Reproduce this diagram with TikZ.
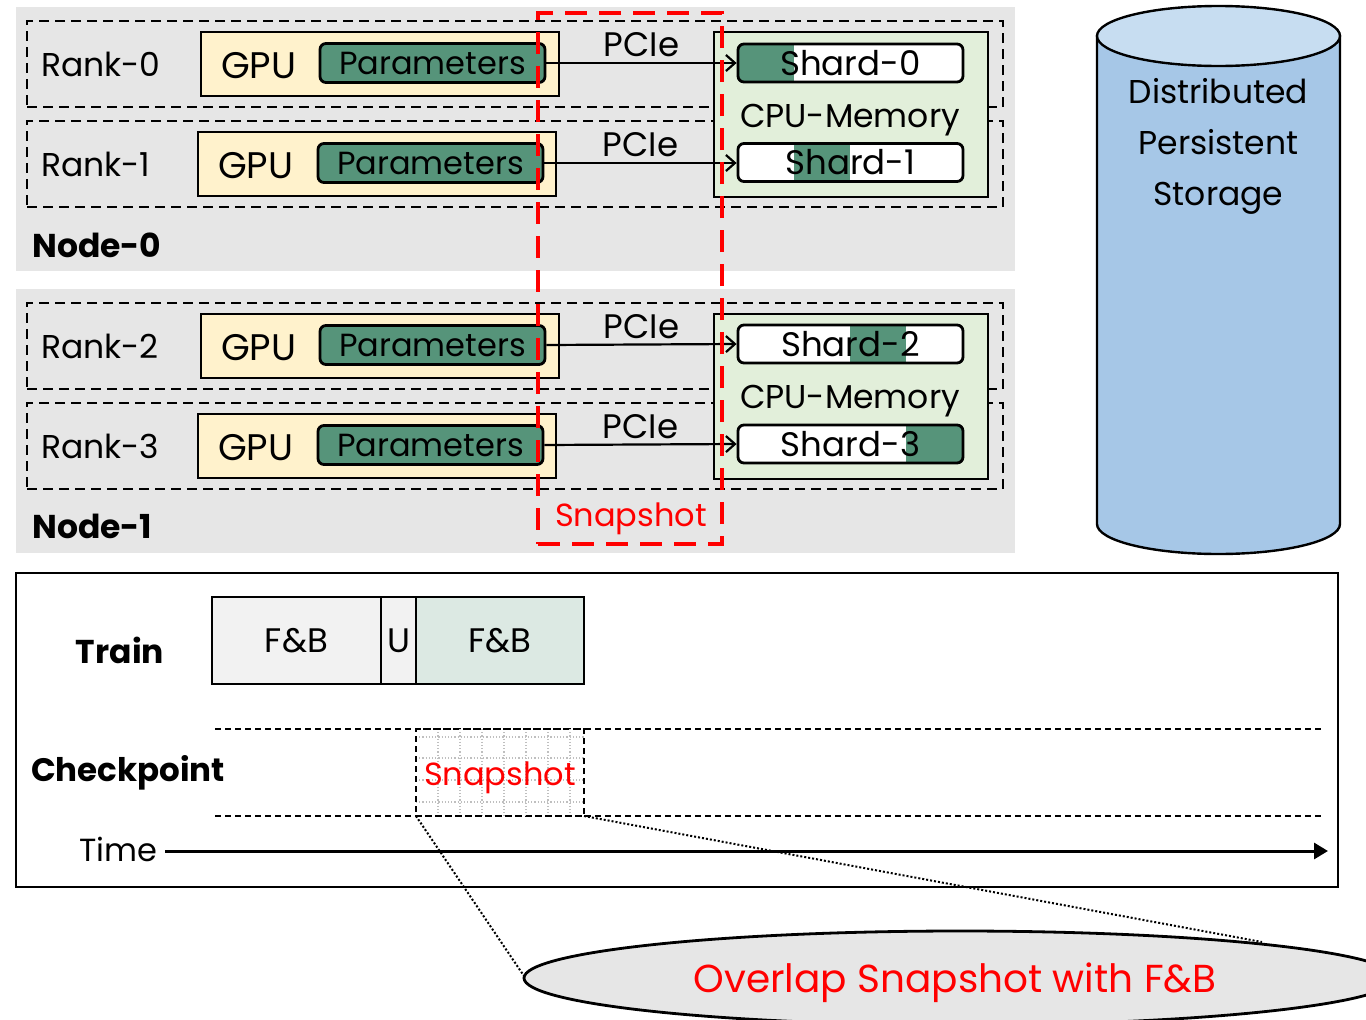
\documentclass[tikz,border=0pt]{standalone}
\usepackage{fontspec}
\setmainfont{Poppins}
\usetikzlibrary{shapes.geometric,arrows.meta}

\definecolor{nodebg}{HTML}{E6E6E6}
\definecolor{gpufill}{HTML}{FFF2CC}
\definecolor{paramfill}{HTML}{56947A}
\definecolor{cpufill}{HTML}{E2EFDA}
\definecolor{storebody}{HTML}{A6C7E7}
\definecolor{storetop}{HTML}{C7DDF1}
\definecolor{fbgray}{HTML}{F2F2F2}
\definecolor{fbgreen}{HTML}{DCE9E3}
\definecolor{snapred}{HTML}{FF0000}
\definecolor{gridgray}{HTML}{BFBFBF}

\tikzset{
  big/.style={font=\fontsize{34}{40}\selectfont},
  mid/.style={font=\fontsize{33}{40}\selectfont},
  small/.style={font=\fontsize{32}{40}\selectfont},
  bigbold/.style={font=\fontsize{33}{40}\selectfont\bfseries},
  lbl/.style={big, inner sep=0pt},
  box/.style={anchor=north west, inner sep=0pt, outer sep=0pt},
  nodebgbox/.style={box, fill=nodebg, minimum width=999pt, minimum height=264pt},
  rankbox/.style={box, draw, line width=2.4pt, dash pattern=on 10pt off 6pt,
    minimum width=976pt, minimum height=86pt},
  gpubox/.style={box, draw, line width=2.8pt, fill=gpufill,
    minimum width=358pt, minimum height=64pt},
  parambox/.style={draw, line width=2.8pt, fill=paramfill, rounded corners=6pt,
    minimum width=225pt, minimum height=39pt, inner sep=0pt, small},
  cpubox/.style={box, draw, line width=2.8pt, fill=cpufill,
    minimum width=274pt, minimum height=165pt},
  shardbox/.style={draw, line width=2.8pt, rounded corners=6pt,
    minimum width=225pt, minimum height=38pt, inner sep=0pt, big},
  pcie/.style={line width=2.2pt, -{Straight Barb[length=9pt,width=16pt,line width=2.2pt]}},
  snapframe/.style={draw=snapred, line width=4pt, dash pattern=on 22pt off 12pt},
  tlbox/.style={box, draw, line width=2.8pt, minimum height=87pt},
  tldash/.style={line width=2pt, dash pattern=on 6pt off 4pt},
  zoomline/.style={line width=2pt, dotted}
}

\begin{document}
\begin{tikzpicture}[x=1pt, y=-1pt]
\useasboundingbox (0,0) rectangle (1366,1020);
\clip (0,0) rectangle (1366,1020);

% ---------- compute nodes ----------
\node[nodebgbox] (bg0) at (16,7) {};
\node[nodebgbox] (bg1) at (16,289) {};

\node[rankbox] (rk0) at (27,21) {};
\node[rankbox] (rk1) at (27,121) {};
\node[rankbox] (rk2) at (27,303) {};
\node[rankbox] (rk3) at (27,403) {};

\node[lbl, mid, anchor=west] (rl0) at (41,64) {Rank-0};
\node[lbl, mid, anchor=west] (rl1) at (41,164) {Rank-1};
\node[lbl, mid, anchor=west] (rl2) at (41,346) {Rank-2};
\node[lbl, mid, anchor=west] (rl3) at (41,446) {Rank-3};

\node[gpubox] (gpu0) at (201,32) {};
\node[gpubox] (gpu1) at (198,132) {};
\node[gpubox] (gpu2) at (201,314) {};
\node[gpubox] (gpu3) at (198,414) {};

\node[lbl, font=\fontsize{37}{40}\selectfont, anchor=west] (gt0) at (221,66) {GPU};
\node[lbl, font=\fontsize{37}{40}\selectfont, anchor=west] (gt1) at (218,166) {GPU};
\node[lbl, font=\fontsize{37}{40}\selectfont, anchor=west] (gt2) at (221,348) {GPU};
\node[lbl, font=\fontsize{37}{40}\selectfont, anchor=west] (gt3) at (218,448) {GPU};

\node[parambox] (par0) at (432.5,63) {Parameters};
\node[parambox] (par1) at (430.5,163) {Parameters};
\node[parambox] (par2) at (432.5,345) {Parameters};
\node[parambox] (par3) at (430.5,445) {Parameters};

\node[cpubox] (cpu0) at (714,32) {};
\node[cpubox] (cpu1) at (714,314) {};
\node[lbl, mid] (cm0) at (850,120) {CPU-Memory};
\node[lbl, mid] (cm1) at (850,401) {CPU-Memory};

% shards: white body with the locally held slice in green
\foreach \y/\a/\b/\n in {44/738/794/0, 143/794/850/1, 325/850/906/2, 425/906/963/3}{
  \begin{scope}
    \clip[rounded corners=6pt] (738,\y) rectangle (963,\y+38);
    \fill[white] (738,\y) rectangle (963,\y+38);
    \fill[paramfill] (\a,\y) rectangle (\b,\y+38);
  \end{scope}
}
\node[shardbox] (sh0) at (850.5,63) {Shard-0};
\node[shardbox] (sh1) at (850.5,162.5) {Shard-1};
\node[shardbox] (sh2) at (850.5,344) {Shard-2};
\node[shardbox] (sh3) at (850.5,444) {Shard-3};

\draw[pcie] (par0.east) -- (sh0.west) node[midway, above=5pt, lbl] (pc0) {PCIe};
\draw[pcie] (par1.east) -- (sh1.west |- par1.east) node[midway, above=5pt, lbl] (pc1) {PCIe};
\draw[pcie] (par2.east) -- (sh2.west) node[midway, above=5pt, lbl] (pc2) {PCIe};
\draw[pcie] (par3.east) -- (sh3.west) node[midway, above=5pt, lbl] (pc3) {PCIe};

\node[bigbold, inner sep=0pt, anchor=west] (nl0) at (32,245) {Node-0};
\node[bigbold, inner sep=0pt, anchor=west] (nl1) at (32,526) {Node-1};

% snapshot frame across the GPU->CPU copies
\node[box, snapframe, minimum width=184pt, minimum height=531pt] (snapf) at (538,13) {};
\node[lbl, small, text=snapred] (snapl) at (631,519) {Snapshot};

% ---------- storage cylinder ----------
\coordinate (cyltop) at (1218.5,36);
\coordinate (cylbot) at (1218.5,524);
\fill[storebody, draw=black, line width=2.4pt]
  (1097,36) -- (1097,524) arc[start angle=180, end angle=360, x radius=121.5pt, y radius=30pt]
  -- (1340,36) -- cycle;
\draw[fill=storetop, line width=2.4pt] (cyltop) ellipse [x radius=121.5pt, y radius=30pt];
\node[align=center, inner sep=0pt, font=\fontsize{33}{51}\selectfont] (store) at (1218.5,146)
  {Distributed\\Persistent\\Storage};

% ---------- timeline ----------
\node[box, draw, line width=2.8pt, fill=white, minimum width=1322pt, minimum height=314pt] (tl) at (16,573) {};

\node[bigbold, inner sep=0pt] (train) at (120,650) {Train};
\node[tlbox, fill=fbgray, minimum width=169pt] (fb1) at (212,597) {};
\node[tlbox, fill=fbgray, minimum width=35pt] (upd) at (381,597) {};
\node[tlbox, fill=fbgreen, minimum width=168pt] (fb2) at (416,597) {};
\node[lbl] at (fb1.center) (fb1t) {F\&B};
\node[lbl] at (upd.center) (updt) {U};
\node[lbl] at (fb2.center) (fb2t) {F\&B};

\coordinate (d1a) at (215,729);
\coordinate (d1b) at (1322,729);
\coordinate (d2a) at (215,816);
\coordinate (d2b) at (1322,816);
\draw[tldash] (d1a) -- (d1b);
\draw[tldash] (d2a) -- (d2b);

\node[inner sep=0pt, anchor=west, font=\fontsize{32.5}{40}\selectfont\bfseries] (ckpt) at (31,773) {Checkpoint};

% snapshot slot with its light grid
\foreach \gx in {438,460,482,504,526,548,570}
  \draw[gridgray, line width=1.2pt, dotted] (\gx,729) -- (\gx,816);
\foreach \gy in {737,758,780,802}
  \draw[gridgray, line width=1.2pt, dotted] (416,\gy) -- (584,\gy);
\node[box, draw, line width=2pt, dash pattern=on 6pt off 4pt, minimum width=168pt, minimum height=87pt] (snapslot) at (416,729) {};
\node[lbl, small, text=snapred] (snapt) at (500,778) {Snapshot};

\node[lbl, small, anchor=west] (timel) at (79,849) {Time};
\coordinate (tstart) at (165,851);
\coordinate (tend) at (1328,851);
\draw[line width=3pt, -{Triangle[length=14pt,width=16pt]}] (tstart) -- (tend);

% ---------- zoom-out callout ----------
\node[ellipse, draw, line width=2.8pt, fill=nodebg, minimum width=872pt, minimum height=94pt, inner sep=0pt] (callout) at (960,978) {};
\node[inner sep=0pt, text=snapred, font=\fontsize{39}{44}\selectfont] (callt) at (955,983) {Overlap Snapshot with F\&B};
\coordinate (zl) at (524,976);
\coordinate (zr) at (1262,942);
\draw[zoomline] (snapslot.south west) -- (zl);
\draw[zoomline] (snapslot.south east) -- (zr);
\end{tikzpicture}
\end{document}
